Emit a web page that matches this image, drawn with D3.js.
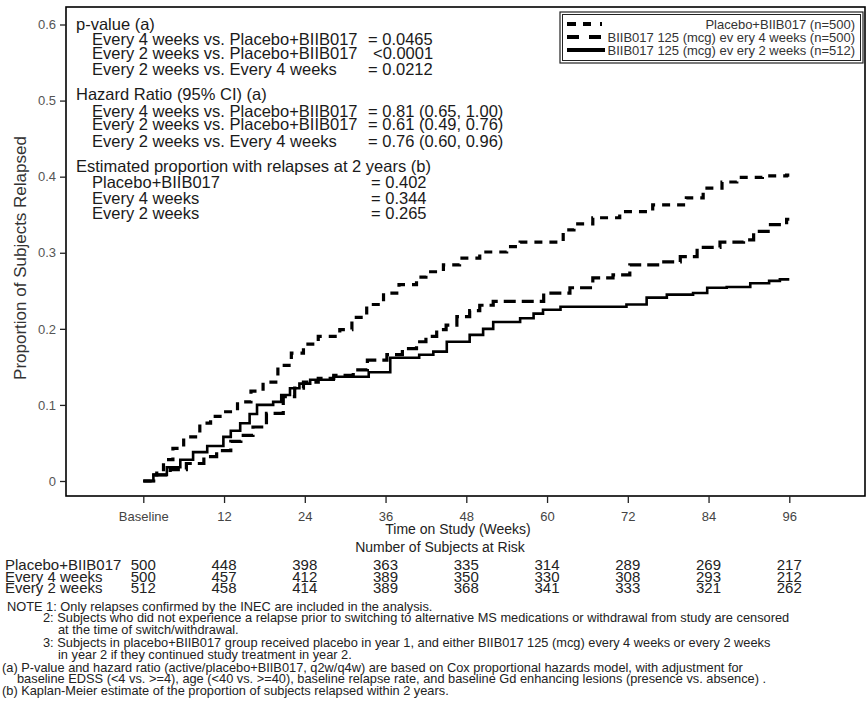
<!DOCTYPE html>
<html>
<head>
<meta charset="utf-8">
<script src="https://cdn.jsdelivr.net/npm/d3@7"></script>
<style>
  body { margin: 0; background: #fff; }
  svg { display: block; font-family: "Liberation Sans", Arial, sans-serif; }
</style>
</head>
<body>
<script>
// Kaplan-Meier curves: [week, proportion relapsed]
const placeboCurve = [[0,0],[1,0.008],[2,0.015],[3,0.028],[4.4,0.043],[6,0.058],[8.4,0.076],[10,0.085],[11.9,0.091],
  [14,0.104],[16,0.118],[17.8,0.13],[20,0.152],[22,0.168],[23.8,0.18],[26,0.19],[29.2,0.199],[31,0.215],[33.2,0.232],
  [35.7,0.247],[38,0.258],[40.6,0.268],[42,0.275],[44.6,0.284],[47,0.293],[50,0.301],[54,0.308],[56,0.314],[62.4,0.33],
  [64,0.338],[66.8,0.346],[70.8,0.354],[75.7,0.363],[80.7,0.372],[83.2,0.385],[86,0.393],[88.2,0.399],[92,0.401],[95.6,0.402],[96,0.402]];
const q4wCurve = [[0,0],[2,0.008],[4,0.015],[6.4,0.023],[9,0.032],[10.9,0.04],[13,0.052],[14.5,0.06],[16.3,0.071],[18.3,0.089],
  [20.8,0.111],[22.5,0.122],[23.8,0.13],[26,0.135],[28.3,0.139],[31.2,0.146],[33.3,0.159],[36.2,0.166],[38.5,0.174],[40.6,0.183],
  [42,0.19],[43.6,0.199],[45,0.205],[46.6,0.216],[48.5,0.224],[50,0.231],[52,0.236],[59.5,0.247],[63.4,0.254],[66.8,0.267],
  [69.8,0.271],[72.3,0.284],[76.8,0.288],[79.8,0.295],[82.3,0.307],[85.7,0.314],[89.2,0.317],[90.7,0.328],[93.2,0.337],[95.6,0.344],[96,0.344]];
const q2wCurve = [[0,0],[1.5,0.008],[3.5,0.018],[5.5,0.028],[7.4,0.038],[9.5,0.046],[11.9,0.058],[13,0.066],[14.4,0.076],[15.8,0.088],
  [16.9,0.1],[19.3,0.104],[20.5,0.113],[21.8,0.122],[23.2,0.128],[24.8,0.133],[28.3,0.137],[33.5,0.143],[36.7,0.162],[41,0.166],
  [43.1,0.17],[45.1,0.183],[48.5,0.192],[50.5,0.2],[52,0.209],[56,0.214],[58,0.22],[59.4,0.225],[62,0.229],[71.8,0.232],
  [74.8,0.241],[77.8,0.245],[81.7,0.247],[83.8,0.254],[86.7,0.255],[90.2,0.26],[93,0.263],[94.6,0.265],[96,0.265]];

const seriesNames = ["Placebo+BIIB017 (n=500)", "BIIB017 125 (mcg) ev ery 4 weeks (n=500)", "BIIB017 125 (mcg) ev ery 2 weeks (n=512)"];
const yTicks = [0, 0.1, 0.2, 0.3, 0.4, 0.5, 0.6];
const weeks = [0, 12, 24, 36, 48, 60, 72, 84, 96];

// number at risk
const riskGroups = ["Placebo+BIIB017", "Every 4 weeks", "Every 2 weeks"];
const riskPlacebo = [500, 448, 398, 363, 335, 314, 289, 269, 217];
const riskQ4w = [500, 457, 412, 389, 350, 330, 308, 293, 212];
const riskQ2w = [512, 458, 414, 389, 368, 341, 333, 321, 262];

// statistics text block
const pvalueRows = [["Every 4 weeks vs. Placebo+BIIB017", "= 0.0465"], ["Every 2 weeks vs. Placebo+BIIB017", "<0.0001"], ["Every 2 weeks vs. Every 4 weeks", "= 0.0212"]];
const hazardRows = [["Every 4 weeks vs. Placebo+BIIB017", "= 0.81 (0.65, 1.00)"], ["Every 2 weeks vs. Placebo+BIIB017", "= 0.61 (0.49, 0.76)"], ["Every 2 weeks vs. Every 4 weeks", "= 0.76 (0.60, 0.96)"]];
const estimateRows = [["Placebo+BIIB017", "= 0.402"], ["Every 4 weeks", "= 0.344"], ["Every 2 weeks", "= 0.265"]];

const notes = [
  "NOTE 1: Only relapses confirmed by the INEC are included in the analysis.",
  "2: Subjects who did not experience a relapse prior to switching to alternative MS medications or withdrawal from study are censored",
  "at the time of switch/withdrawal.",
  "3: Subjects in placebo+BIIB017 group received placebo in year 1, and either BIIB017 125 (mcg) every 4 weeks or every 2 weeks",
  "in year 2 if they continued study treatment in year 2.",
  "(a) P-value and hazard ratio (active/placebo+BIIB017, q2w/q4w) are based on Cox proportional hazards model, with adjustment for",
  "baseline EDSS (<4 vs. >=4), age (<40 vs. >=40), baseline relapse rate, and baseline Gd enhancing lesions (presence vs. absence) .",
  "(b) Kaplan-Meier estimate of the proportion of subjects relapsed within 2 years."
];

const width = 867, height = 702;
const frame = { left: 66, top: 7, right: 865, bottom: 496 };

const svg = d3.select("body").append("svg")
    .attr("width", width)
    .attr("height", height);

const x = d3.scaleLinear().domain([0, 96]).range([143.3, 789.3]);
const y = d3.scaleLinear().domain([0, 0.6]).range([481, 24.5]);

// frame
svg.append("rect")
    .attr("x", frame.left).attr("y", frame.top)
    .attr("width", frame.right - frame.left).attr("height", frame.bottom - frame.top)
    .attr("fill", "none").attr("stroke", "#000").attr("stroke-width", 1.6);

// axes
const yAxis = svg.append("g")
    .attr("transform", `translate(${frame.left},0)`)
    .call(d3.axisLeft(y).tickValues(yTicks).tickSize(6).tickPadding(4)
        .tickFormat(d => d === 0 ? "0" : d3.format(".1f")(d)));
yAxis.select(".domain").remove();
yAxis.selectAll("line").attr("stroke", "#222").attr("stroke-width", 1.3);
yAxis.selectAll("text").attr("font-size", 13).attr("fill", "#555").attr("font-family", "Liberation Sans, Arial");

const xAxis = svg.append("g")
    .attr("transform", `translate(0,${frame.bottom})`)
    .call(d3.axisBottom(x).tickValues(weeks).tickSize(7).tickPadding(9)
        .tickFormat(d => d === 0 ? "Baseline" : d));
xAxis.select(".domain").remove();
xAxis.selectAll("line").attr("stroke", "#222").attr("stroke-width", 1.3);
xAxis.selectAll("text").attr("font-size", 13).attr("fill", "#444")
    .attr("font-family", "Liberation Sans Narrow, Liberation Sans, Arial");

svg.append("text")
    .attr("transform", "translate(26,258) rotate(-90)")
    .attr("text-anchor", "middle")
    .attr("font-size", 17).attr("fill", "#333")
    .text("Proportion of Subjects Relapsed");

svg.append("text")
    .attr("x", 458).attr("y", 534)
    .attr("text-anchor", "middle")
    .attr("font-size", 14).attr("fill", "#222")
    .text("Time on Study (Weeks)");

// curves
const line = d3.line()
    .x(d => x(d[0]))
    .y(d => y(d[1]))
    .curve(d3.curveStepAfter);

const styles = [
  { data: placeboCurve, dash: "8,7", width: 3.2 },
  { data: q4wCurve, dash: "12,6", width: 3.2 },
  { data: q2wCurve, dash: null, width: 2.6 }
];

svg.selectAll(".km")
    .data(styles)
    .enter().append("path")
    .attr("class", "km")
    .attr("d", d => line(d.data))
    .attr("fill", "none")
    .attr("stroke", "#000")
    .attr("stroke-width", d => d.width)
    .attr("stroke-dasharray", d => d.dash);

// legend
const lg = svg.append("g");
lg.append("rect").attr("x", 560).attr("y", 12).attr("width", 303).attr("height", 51)
    .attr("fill", "#fff").attr("stroke", "#222").attr("stroke-width", 1.2);
lg.append("rect").attr("x", 562.5).attr("y", 14.5).attr("width", 298).attr("height", 46)
    .attr("fill", "none").attr("stroke", "#222").attr("stroke-width", 1);
const legendRows = lg.selectAll(".lrow")
    .data(styles)
    .enter().append("g")
    .attr("class", "lrow")
    .attr("transform", (d, i) => `translate(0,${24 + i * 13})`);
legendRows.append("line")
    .attr("x1", 567).attr("x2", 605)
    .attr("stroke", "#000")
    .attr("stroke-width", 4)
    .attr("stroke-dasharray", (d, i) => i === 0 ? "9,7,8,9,2,20" : d.dash ? "12,10" : null);
legendRows.append("text")
    .attr("x", 855).attr("y", 4.5)
    .attr("text-anchor", "end")
    .attr("font-size", 13).attr("fill", "#333")
    .text((d, i) => seriesNames[i]);

// statistics block
const stats = svg.append("g").attr("font-size", 16.5).attr("fill", "#1a1a1a");
function statBlock(title, rows, top, rowYs, valueX) {
  stats.append("text").attr("x", 76).attr("y", top).text(title);
  rows.forEach((r, i) => {
    stats.append("text").attr("x", 92).attr("y", rowYs[i]).text(r[0]);
    stats.append("text").attr("x", valueX[i]).attr("y", rowYs[i]).text(r[1]);
  });
}
statBlock("p-value (a)", pvalueRows, 30, [45, 59, 75], [368, 373, 368]);
statBlock("Hazard Ratio (95% CI) (a)", hazardRows, 100, [117, 130, 147], [368, 368, 368]);
statBlock("Estimated proportion with relapses at 2 years (b)", estimateRows, 172, [188, 204, 219], [371, 371, 371]);

// number at risk table
svg.append("text")
    .attr("x", 440).attr("y", 552)
    .attr("text-anchor", "middle")
    .attr("font-size", 14).attr("fill", "#222")
    .text("Number of Subjects at Risk");

const riskRows = [riskPlacebo, riskQ4w, riskQ2w];
const rowY = [570, 581.5, 593];
riskRows.forEach((vals, i) => {
  svg.append("text")
      .attr("x", 5).attr("y", rowY[i])
      .attr("font-size", 15).attr("fill", "#222")
      .text(riskGroups[i]);
  svg.selectAll(null)
      .data(vals)
      .enter().append("text")
      .attr("x", (d, j) => x(weeks[j]))
      .attr("y", rowY[i])
      .attr("text-anchor", "middle")
      .attr("font-size", 15).attr("fill", "#222")
      .text(d => d);
});

// footnotes
const noteX = [7, 43, 58, 43, 58, 2, 17, 2];
const noteY = [611, 622, 634, 647, 659, 672, 683, 695];
svg.append("g")
    .attr("font-size", 12.8).attr("fill", "#222")
    .selectAll("text")
    .data(notes)
    .enter().append("text")
    .attr("x", (d, i) => noteX[i])
    .attr("y", (d, i) => noteY[i])
    .text(d => d);
</script>
</body>
</html>
